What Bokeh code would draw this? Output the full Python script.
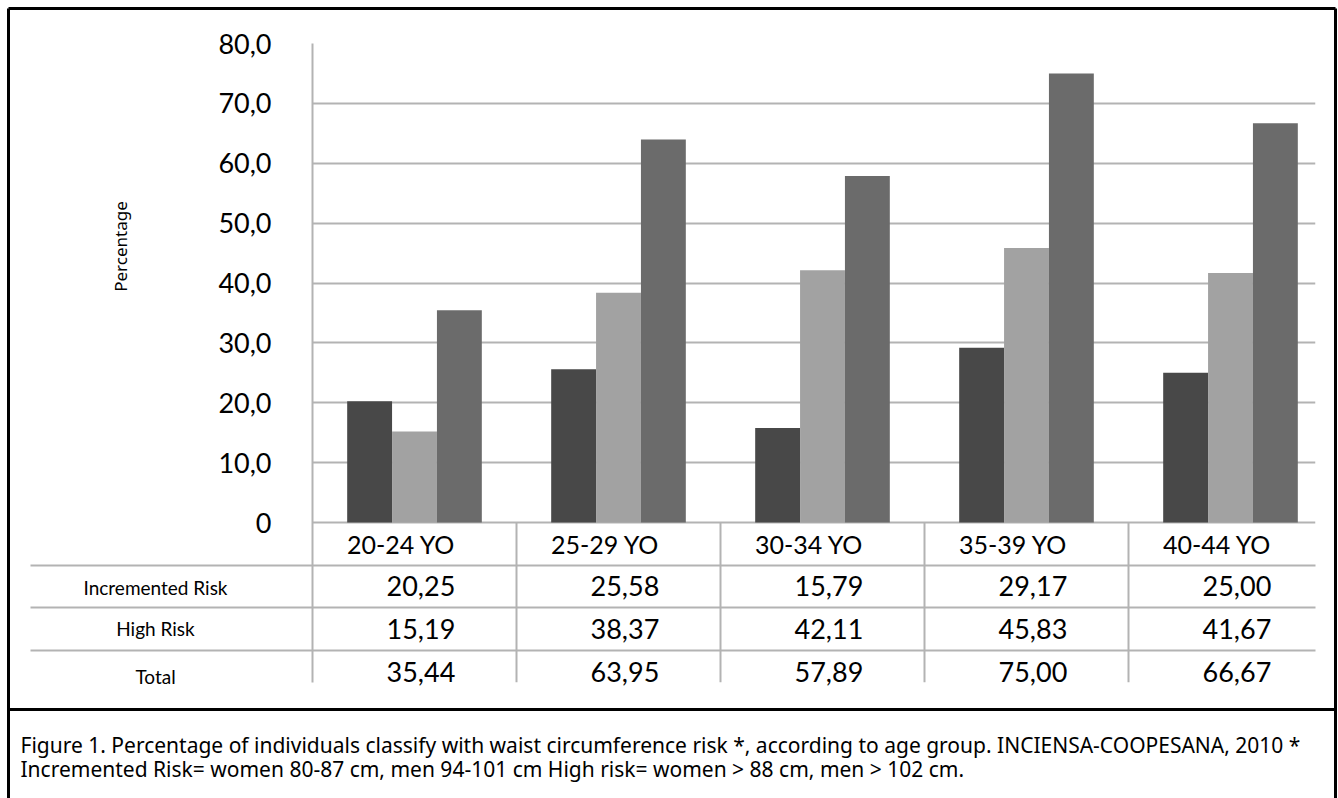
import math
from bokeh.plotting import figure
from bokeh.models import ColumnDataSource, Range1d, FixedTicker
from bokeh.transform import dodge
from bokeh.core.properties import value
from bokeh.embed import file_html
from bokeh.resources import INLINE

# ---------------- data ----------------
categories = ["20-24 YO", "25-29 YO", "30-34 YO", "35-39 YO", "40-44 YO"]
series_names = ["Incremented Risk", "High Risk", "Total"]
incremented_risk = [20.25, 25.58, 15.79, 29.17, 25.00]
high_risk = [15.19, 38.37, 42.11, 45.83, 41.67]
total = [35.44, 63.95, 57.89, 75.00, 66.67]
y_ticks = [0, 10, 20, 30, 40, 50, 60, 70, 80]
y_tick_labels = ["0", "10,0", "20,0", "30,0", "40,0", "50,0", "60,0", "70,0", "80,0"]
y_axis_title = "Percentage"
caption_lines = [
    "Figure 1. Percentage of individuals classify with waist circumference risk *, according to age group. INCIENSA-COOPESANA, 2010 *",
    "Incremented Risk= women 80-87 cm, men 94-101 cm High risk=  women > 88 cm, men > 102 cm.",
]
series_colors = ["#484848", "#a2a2a2", "#6b6b6b"]

# ---------------- layout (pixels) ----------------
W, H = 1338, 798
FL, FR, FT, FB = 312, 1315, 43, 682
ZERO_PY = 522
COL_PX = 204.0
X0 = -0.5
X1 = X0 + (FR - FL) / COL_PX
PPU = (ZERO_PY - FT) / 80.0
Y1 = 80.0
Y0 = -(FB - ZERO_PY) / PPU


def X(px):
    return X0 + (px - FL) / COL_PX


def Y(py):
    return (ZERO_PY - py) / PPU


MAIN_FONT = "Lato"
CAP_FONT = "Noto Sans"
GRID = "#b3b3b3"

p = figure(width=W, height=H, output_backend="svg", toolbar_location=None,
           x_range=Range1d(X0, X1), y_range=Range1d(Y0, Y1),
           x_axis_location=None, min_border_left=FL, min_border_right=W - FR,
           min_border_top=FT, min_border_bottom=H - FB,
           background_fill_color="white", border_fill_color="white")
p.outline_line_color = None
p.xgrid.grid_line_color = None

p.ygrid.ticker = FixedTicker(ticks=y_ticks)
p.ygrid.grid_line_color = GRID
p.ygrid.grid_line_width = 2

ax = p.yaxis[0]
ax.ticker = FixedTicker(ticks=y_ticks)
ax.major_label_overrides = {t: lab for t, lab in zip(y_ticks, y_tick_labels)}
ax.axis_line_color = GRID
ax.axis_line_width = 2
ax.major_tick_line_color = None
ax.minor_tick_line_color = None
ax.major_label_standoff = 35
ax.major_label_text_font = MAIN_FONT
ax.major_label_text_font_size = "27px"
ax.major_label_text_color = "black"

# ---------------- bars ----------------
idx = list(range(len(categories)))
src = ColumnDataSource(dict(x=idx, cat=categories,
                            s0=incremented_risk, s1=high_risk, s2=total))
BW = 0.22
for k, (col, color) in enumerate(zip(["s0", "s1", "s2"], series_colors)):
    p.vbar(x=dodge("x", (k - 1) * BW, range=p.x_range), top=col, bottom=0,
           width=BW, source=src, fill_color=color, line_color=None)

# ---------------- data table under chart ----------------
vx = [i + 0.5 for i in idx[:-1]]
p.segment(x0=vx, y0=[0] * len(vx), x1=vx, y1=[Y0] * len(vx),
          line_color=GRID, line_width=2)

row_lines_py = [565, 607, 650]
p.segment(x0=[X(30)] * 3, y0=[Y(v) for v in row_lines_py],
          x1=[X1] * 3, y1=[Y(v) for v in row_lines_py],
          line_color=GRID, line_width=2, level="overlay")

header_py = 543
row_py = [585, 628, 671]
text_x = [i + 0.2 for i in idx]
p.text(x=text_x, y=[Y(header_py)] * len(idx), text=categories,
       text_align="right", text_baseline="middle",
       text_font=value(MAIN_FONT), text_font_size="25px", text_color="black",
       level="overlay")
for vals, py in zip([incremented_risk, high_risk, total], row_py):
    p.text(x=text_x, y=[Y(py)] * len(idx),
           text=[f"{v:.2f}".replace(".", ",") for v in vals],
           text_align="right", text_baseline="middle",
           text_font=value(MAIN_FONT), text_font_size="27px", text_color="black",
           level="overlay")

# row labels (left of the plot frame)
p.text(x=[X(155)] * 3, y=[Y(v) for v in [587, 628, 676]], text=series_names,
       text_align="center", text_baseline="middle",
       text_font=value(MAIN_FONT), text_font_size="19px", text_color="black",
       level="overlay")

# y axis title
p.text(x=[X(120)], y=[Y(246)], text=[y_axis_title], angle=math.pi / 2,
       text_align="center", text_baseline="middle",
       text_font=value(CAP_FONT), text_font_size="17px", text_color="black",
       level="overlay")

# ---------------- outer frame and caption ----------------
p.segment(x0=[X(8), X(8), X(1335), X(8)], y0=[Y(8), Y(8), Y(8), Y(709)],
          x1=[X(1335), X(8), X(1335), X(1335)], y1=[Y(8), Y(800), Y(800), Y(709)],
          line_color="black", line_width=3, level="overlay")

p.text(x=[X(20)] * 2, y=[Y(744), Y(768)], text=caption_lines,
       text_align="left", text_baseline="alphabetic",
       text_font=value(CAP_FONT), text_font_size="21px", text_color="black",
       level="overlay")

open("out.html", "w").write(file_html(p, INLINE))
